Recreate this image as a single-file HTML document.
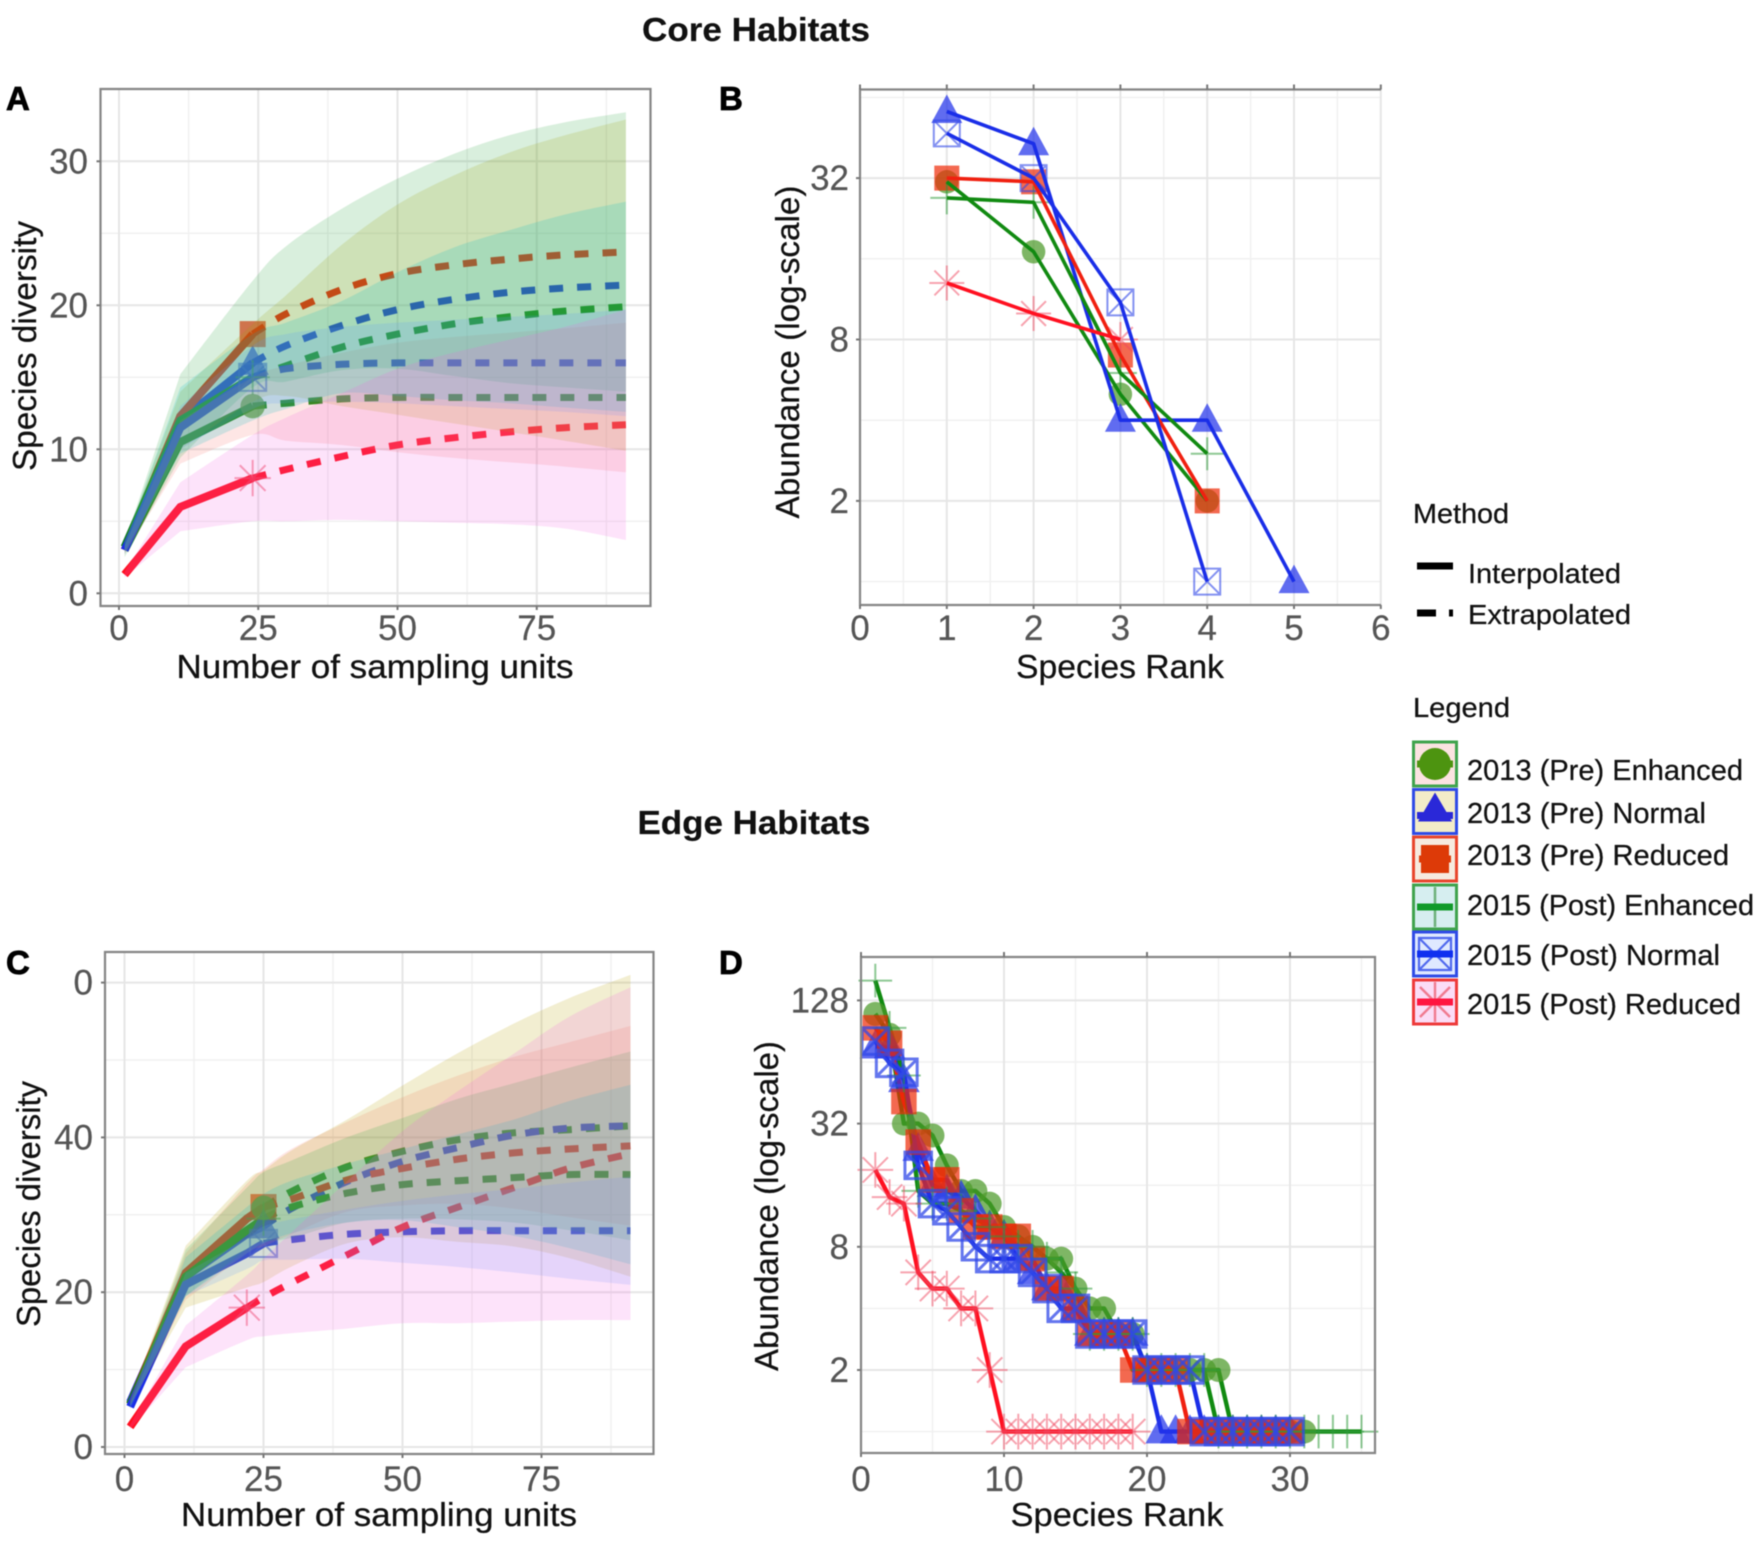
<!DOCTYPE html>
<html lang="en">
<head>
<meta charset="utf-8">
<title>Core and Edge Habitats</title>
<style>
html,body{margin:0;padding:0;background:#fff;}
svg{display:block;font-family:"Liberation Sans",sans-serif;filter:blur(0.65px);}
text{paint-order:stroke;stroke:currentColor;}
</style>
</head>
<body>
<svg id="fig" width="1760" height="1543" viewBox="0 0 1760 1543" xmlns="http://www.w3.org/2000/svg">
<rect x="0" y="0" width="1760" height="1543" fill="#ffffff"/>
<text x="756" y="41" font-size="33" font-weight="bold" text-anchor="middle" fill="#111" color="#111" stroke-width="0.2" textLength="228" lengthAdjust="spacingAndGlyphs">Core Habitats</text>
<text x="754" y="834" font-size="33" font-weight="bold" text-anchor="middle" fill="#111" color="#111" stroke-width="0.2" textLength="233" lengthAdjust="spacingAndGlyphs">Edge Habitats</text>
<text x="6" y="110" font-size="33" font-weight="bold" fill="#000" color="#000" stroke-width="0.8">A</text>
<text x="719" y="110" font-size="33" font-weight="bold" fill="#000" color="#000" stroke-width="0.8">B</text>
<text x="6" y="974" font-size="33" font-weight="bold" fill="#000" color="#000" stroke-width="0.8">C</text>
<text x="719" y="974" font-size="33" font-weight="bold" fill="#000" color="#000" stroke-width="0.8">D</text>

<g id="panelA"></g>
<g id="panelB"></g>
<g id="panelC"></g>
<g id="panelD"></g>

<g stroke-width="0.25" fill="#111" color="#111">
<text x="375" y="678" font-size="33.5" text-anchor="middle" textLength="397" lengthAdjust="spacingAndGlyphs">Number of sampling units</text>
<text x="379" y="1526" font-size="33.5" text-anchor="middle" textLength="396" lengthAdjust="spacingAndGlyphs">Number of sampling units</text>
<text x="1120" y="678" font-size="33.5" text-anchor="middle" textLength="208" lengthAdjust="spacingAndGlyphs">Species Rank</text>
<text x="1117" y="1526" font-size="33.5" text-anchor="middle" textLength="213" lengthAdjust="spacingAndGlyphs">Species Rank</text>
<text transform="translate(36 346) rotate(-90)" font-size="33.5" text-anchor="middle" textLength="250" lengthAdjust="spacingAndGlyphs">Species diversity</text>
<text transform="translate(40 1204) rotate(-90)" font-size="33.5" text-anchor="middle" textLength="246" lengthAdjust="spacingAndGlyphs">Species diversity</text>
<text transform="translate(799 352) rotate(-90)" font-size="33.5" text-anchor="middle" textLength="333" lengthAdjust="spacingAndGlyphs">Abundance (log-scale)</text>
<text transform="translate(778 1206) rotate(-90)" font-size="33.5" text-anchor="middle" textLength="330" lengthAdjust="spacingAndGlyphs">Abundance (log-scale)</text>
</g>

<g id="legendMethod" stroke-width="0.25" fill="#111" color="#111">
<text x="1413" y="523" font-size="28" textLength="96" lengthAdjust="spacingAndGlyphs">Method</text>
<line x1="1417" x2="1453" y1="566" y2="566" stroke="#000" stroke-width="7"/>
<text x="1468" y="583" font-size="28" textLength="153" lengthAdjust="spacingAndGlyphs">Interpolated</text>
<line x1="1417" x2="1436" y1="613" y2="613" stroke="#000" stroke-width="7"/>
<line x1="1449" x2="1453" y1="613" y2="613" stroke="#000" stroke-width="7"/>
<text x="1468" y="624" font-size="28" textLength="163" lengthAdjust="spacingAndGlyphs">Extrapolated</text>
</g>
<g id="legendMain" stroke-width="0.25" fill="#111" color="#111">
<text x="1413" y="717" font-size="28" textLength="97" lengthAdjust="spacingAndGlyphs">Legend</text>
<text x="1467" y="780" font-size="29" textLength="276" lengthAdjust="spacingAndGlyphs">2013 (Pre) Enhanced</text>
<text x="1467" y="823" font-size="29" textLength="239" lengthAdjust="spacingAndGlyphs">2013 (Pre) Normal</text>
<text x="1467" y="865" font-size="29" textLength="262" lengthAdjust="spacingAndGlyphs">2013 (Pre) Reduced</text>
<text x="1467" y="915" font-size="29" textLength="287" lengthAdjust="spacingAndGlyphs">2015 (Post) Enhanced</text>
<text x="1467" y="965" font-size="29" textLength="253" lengthAdjust="spacingAndGlyphs">2015 (Post) Normal</text>
<text x="1467" y="1014" font-size="29" textLength="274" lengthAdjust="spacingAndGlyphs">2015 (Post) Reduced</text>
</g>
</svg>
<script>
// ---------- Panel A data (Core, diversity vs sampling units) ----------
const aSampling = [1, 11, 24, 30, 40, 50, 60, 70, 80, 91];
const aEnh13 = [3, 10.5, 13, 13.2, 13.5, 13.6, 13.6, 13.6, 13.6, 13.6];
const aNor13 = [3.2, 12, 16, 17.2, 18.6, 19.7, 20.4, 20.9, 21.2, 21.4];
const aRed13 = [3, 12.3, 18, 19.4, 21.1, 22.2, 22.8, 23.2, 23.5, 23.7];
const aEnh15 = [3.2, 12, 15, 15.8, 17.1, 18, 18.7, 19.2, 19.6, 19.9];
const aNor15 = [3, 11.5, 15, 15.6, 15.9, 16, 16, 16, 16, 16];
const aRed15 = [1.3, 6, 8, 8.6, 9.5, 10.3, 10.8, 11.2, 11.5, 11.7];
const aEnh13Ci = [0.3, 1.5, 2, 2.6, 3.2, 3.8, 4.2, 4.5, 4.8, 5.2];
const aNor13Ci = [0.4, 2, 2.7, 3.5, 5.6, 7.3, 8.6, 9.7, 10.6, 11.5];
const aRed13Ci = [0.5, 2.9, 3.7, 4.7, 5.6, 6.6, 7.7, 8.6, 9.2, 9.7];
const aEnh15Ci = [0.3, 2.3, 3, 3, 3.2, 4.3, 5.3, 6, 6.7, 7.3];
const aNor15Ci = [0.3, 1.5, 2.2, 2.4, 2.6, 2.8, 3, 3.2, 3.4, 3.7];
const aRed15Ci = [0.2, 1.7, 3, 3.6, 4.4, 5.3, 5.9, 6.4, 7, 8];
const aObservedIndex = [2, 2, 2, 2, 2, 2];
const aXTicks = [0, 25, 50, 75];
const aYTicks = [0, 10, 20, 30];
const aYTickLabels = ['0', '10', '20', '30'];

// ---------- Panel C data (Edge, diversity vs sampling units) ----------
const cSampling = [1, 11, 22, 25, 30, 40, 50, 60, 70, 80, 91];
const cEnh13 = [5.6, 22, 29.5, 30.9, 33, 36.2, 38.2, 39.7, 40.6, 41, 41.5];
const cNor13 = [5.8, 22, 27.5, 28.5, 30.8, 34.3, 36.9, 38.7, 40.3, 41.2, 41.5];
const cRed13 = [5.5, 22.5, 29.5, 31, 32, 34.5, 36, 37.2, 38, 38.5, 38.9];
const cEnh15 = [5.5, 22, 28, 29.5, 31, 32.8, 33.9, 34.4, 34.8, 35.2, 35.2];
const cNor15 = [5.2, 21, 25, 26.3, 26.8, 27.5, 27.8, 27.95, 27.95, 27.95, 27.95];
const cRed15 = [2.6, 13, 18, 19.3, 21.2, 24.8, 28.4, 31, 33.5, 36, 37.9];
const cEnh13Ci = [0.4, 3, 4.5, 5, 5.5, 5.8, 7, 8.3, 9.8, 11.3, 12.9];
const cNor13Ci = [0.4, 4, 6.9, 7.2, 7.5, 8, 9.8, 12.2, 14.4, 16.8, 19.5];
const cRed13Ci = [0.4, 3, 4, 4.5, 5, 5.5, 6.5, 7.8, 9, 10.5, 12.2];
const cEnh15Ci = [0.3, 2.5, 3, 3.2, 3.4, 3.8, 4.6, 6, 7.5, 9.5, 11.6];
const cNor15Ci = [0.3, 1.5, 2, 2.2, 2.6, 3.2, 4, 4.7, 5.4, 6.2, 7];
const cRed15Ci = [0.3, 2.7, 4.2, 5, 6.5, 9.5, 12.4, 15, 17.3, 19.6, 21.5];
const cObservedIndex = [3, 3, 3, 3, 3, 2];
const cXTicks = [0, 25, 50, 75];
const cYTicks = [0, 20, 40, 60];
const cYTickLabels = ['0', '20', '40', '0'];

// ---------- Panel B data (Core, abundance by species rank) ----------
const bEnh13 = [31, 17, 5, 2];
const bNor13 = [56.7, 43, 4, 4, 1];
const bRed13 = [32, 31, 7, 2];
const bEnh15 = [27, 26, 6, 3];
const bNor15 = [47, 32, 11, 1];
const bRed15 = [13, 10, 8];
const bXTicks = [0, 1, 2, 3, 4, 5, 6];
const bYTicks = [2, 8, 32];

// ---------- Panel D data (Edge, abundance by species rank) ----------
const dEnh13 = [110,87,32,32,28,20,15,15,13,10,9,8,7,7,5,4,4,3,3,2,2,2,2,2,2,1,1,1,1,1,1];
const dNor13 = [76,76,52,24,16,15,14,12,10,9,7,6,5,5,4,3,3,3,3,2,1,1,1,1,1,1,1,1,1,1];
const dRed13 = [94,79,41,26,17,17,12,10,10,9,9,7,5,5,4,3,3,3,2,2,2,2,1,1,1,1,1,1,1,1];
const dEnh15 = [160,94,55,15,13,13,12,11,10,9,8,8,7,6,5,3,3,3,3,2,2,2,2,2,1,1,1,1,1,1,1,1,1,1,1];
const dNor15 = [81,63,57,20,13,12,10,8,7,7,7,6,5,4,4,3,3,3,3,2,2,2,2,1,1,1,1,1,1,1];
const dRed15 = [19,14,13,6,5,5,4,4,2,1,1,1,1,1,1,1,1,1,1];
const dXTicks = [0, 10, 20, 30];
const dYTicks = [2, 8, 32, 128];

// ---------- Series names ----------
const seriesKeys = ['2013-enhanced', '2013-normal', '2013-reduced', '2015-enhanced', '2015-normal', '2015-reduced'];

// ---------- Styling ----------
const lineColor = ['#118a11', '#1a2ee8', '#f02010', '#118a11', '#1a2ee8', '#ff1020'];
const ribbonColor = ['#F8766D', '#B79F00', '#2aa544', '#00BFC4', '#619CFF', '#F564E3'];
const markerColor = ['#4c9a2a', '#2233ea', '#ee2a06', '#2f9a3a', '#3048e8', '#f04860'];
const markerType = ['circle', 'triangle', 'square', 'plus', 'crossSquare', 'asterisk'];
const aMarkerOrder = [0, 1, 2, 3, 4, 5];
const cMarkerOrder = [2, 1, 3, 4, 0, 5];
let crossStrokeWidth = 2;
let crossStrokeOpacity = 0.6;

// ---------- Axis functions ----------
const aXS = v => 119 + 5.57 * v;
const aYS = v => 593.3 - 14.4 * v;
const cXS = v => 124.5 + 5.56 * v;
const cYS = v => 1447 - 7.74 * v;
const bXS = v => 860 + 86.8 * v;
const bYS = v => 581.6 - 80.7 * Math.log2(v);
const dXS = v => 861 + 14.3 * v;
const dYS = v => 1431.6 - 61.6 * Math.log2(v);

const NS = 'http://www.w3.org/2000/svg';
function mk(parent, tag, attrs) {
  const el = document.createElementNS(NS, tag);
  for (const k in attrs) el.setAttribute(k, attrs[k]);
  parent.appendChild(el);
  return el;
}

function drawMarker(parent, type, x, y, s, color, name) {
  const g = mk(parent, 'g', {});
  
  
  if (type === 'circle') {
    mk(g, 'circle', { cx: x, cy: y, r: s * 0.47, fill: color, 'fill-opacity': 0.72 });
  } else if (type === 'triangle') {
    const w = s * 0.62, hT = s * 0.68, hB = s * 0.46;
    mk(g, 'polygon', { points: `${x - w},${y + hB} ${x + w},${y + hB} ${x},${y - hT}`, fill: color, 'fill-opacity': 0.72 });
  } else if (type === 'square') {
    const h = s * 0.5;
    mk(g, 'rect', { x: x - h, y: y - h, width: 2 * h, height: 2 * h, fill: color, 'fill-opacity': 0.7 });
  } else if (type === 'plus') {
    const a = s * 0.66;
    mk(g, 'path', { d: `M${x - a} ${y}H${x + a}M${x} ${y - a}V${y + a}`, stroke: color, 'stroke-width': 2, 'stroke-opacity': 0.55, fill: 'none' });
  } else if (type === 'crossSquare') {
    const h = s * 0.52;
    mk(g, 'path', { d: `M${x - h} ${y - h}H${x + h}V${y + h}H${x - h}ZM${x - h} ${y - h}L${x + h} ${y + h}M${x + h} ${y - h}L${x - h} ${y + h}`, stroke: color, 'stroke-width': crossStrokeWidth, 'stroke-opacity': crossStrokeOpacity, fill: 'none' });
  } else {
    const a = s * 0.7, d = a * 0.707;
    mk(g, 'path', { d: `M${x - a} ${y}H${x + a}M${x} ${y - a}V${y + a}M${x - d} ${y - d}L${x + d} ${y + d}M${x + d} ${y - d}L${x - d} ${y + d}`, stroke: color, 'stroke-width': 2, 'stroke-opacity': 0.5, fill: 'none' });
  }
  return g;
}

function polyD(xs, ys) {
  return xs.map((x, i) => (i ? 'L' : 'M') + x.toFixed(1) + ' ' + ys[i].toFixed(1)).join('');
}

// smooth curve segments through the given points (no initial move)
function curveSegs(x, y) {
  let d = '';
  const n = x.length;
  for (let i = 0; i < n - 1; i++) {
    const a = i > 0 ? i - 1 : i, b = i + 2 < n ? i + 2 : i + 1;
    const c1x = x[i] + (x[i + 1] - x[a]) / 6, c1y = y[i] + (y[i + 1] - y[a]) / 6;
    const c2x = x[i + 1] - (x[b] - x[i]) / 6, c2y = y[i + 1] - (y[b] - y[i]) / 6;
    d += `C${c1x.toFixed(1)} ${c1y.toFixed(1)} ${c2x.toFixed(1)} ${c2y.toFixed(1)} ${x[i + 1].toFixed(1)} ${y[i + 1].toFixed(1)}`;
  }
  return d;
}

function frame(parent, box, xs, ys, xMinor, yMinor) {
  const bg = mk(parent, 'rect', { x: box.l, y: box.t, width: box.r - box.l, height: box.b - box.t, fill: '#fff' });
  
  
  xMinor.forEach(px => {
    const l = mk(parent, 'line', { x1: px, x2: px, y1: box.t, y2: box.b, stroke: '#f0f0f0', 'stroke-width': 1.4 });
    
    
  });
  yMinor.forEach(py => {
    const l = mk(parent, 'line', { x1: box.l, x2: box.r, y1: py, y2: py, stroke: '#f0f0f0', 'stroke-width': 1.4 });
    
    
  });
  xs.forEach(px => {
    const l = mk(parent, 'line', { x1: px, x2: px, y1: box.t, y2: box.b, stroke: '#e6e6e6', 'stroke-width': 2 });
    
    
  });
  ys.forEach(py => {
    const l = mk(parent, 'line', { x1: box.l, x2: box.r, y1: py, y2: py, stroke: '#e6e6e6', 'stroke-width': 2 });
    
    
  });
}

function border(parent, box, hasRight) {
  const d = hasRight
    ? `M${box.l} ${box.t}H${box.r}V${box.b}H${box.l}Z`
    : `M${box.r} ${box.t}H${box.l}V${box.b}H${box.r}`;
  const p = mk(parent, 'path', { d: d, fill: 'none', stroke: '#858585', 'stroke-width': 2.2 });
  
  
}

function axisText(parent, str, x, y, anchor, name) {
  const t = mk(parent, 'text', { x: x, y: y, 'font-size': 35, 'text-anchor': anchor, fill: '#555', color: '#555', 'stroke-width': 0.2 });
  t.textContent = str;
  
  
}

function tick(parent, x1, y1, x2, y2) {
  const l = mk(parent, 'line', { x1, y1, x2, y2, stroke: '#777', 'stroke-width': 2 });
  
  
}

function drawRarefaction(parent, box, xS, yS, grid, means, cis, obs, order, xTicks, yTicks, yLabels, xMinorV, yMinorV, labelBase, labelRight) {
  frame(parent, box, xTicks.map(xS), yTicks.map(yS), xMinorV.map(xS), yMinorV.map(yS));
  const px = grid.map(xS);
  means.forEach((m, i) => {
    const py = m.map(yS), k = obs[i];
    const solid = mk(parent, 'path', { d: polyD(px.slice(0, k + 1), py.slice(0, k + 1)), fill: 'none', stroke: lineColor[i], 'stroke-width': 8, 'stroke-linejoin': 'miter' });
    
    
    const dash = mk(parent, 'path', { d: 'M' + px[k].toFixed(1) + ' ' + py[k].toFixed(1) + curveSegs(px.slice(k), py.slice(k)), fill: 'none', stroke: lineColor[i], 'stroke-width': 7, 'stroke-dasharray': '14 14' });
    
    
  });
  order.forEach(i => {
    const k = obs[i];
    drawMarker(parent, markerType[i], px[k], yS(means[i][k]), 26, markerColor[i], 'observed-point-' + seriesKeys[i]);
  });
  // ribbons overlay the lines
  means.forEach((m, i) => {
    const up = m.map((v, j) => yS(v + cis[i][j]));
    const lo = m.map((v, j) => yS(v - cis[i][j]));
    const n = px.length;
    const rx = px.slice(1).reverse(), rl = lo.slice(1).reverse();
    const d = `M${px[0].toFixed(1)} ${up[0].toFixed(1)}L${px[1].toFixed(1)} ${up[1].toFixed(1)}` +
      curveSegs(px.slice(1), up.slice(1)) +
      `L${px[n - 1].toFixed(1)} ${lo[n - 1].toFixed(1)}` +
      curveSegs(rx, rl) +
      `L${px[0].toFixed(1)} ${lo[0].toFixed(1)}Z`;
    const r = mk(parent, 'path', { d: d, fill: ribbonColor[i], 'fill-opacity': 0.18 });
    
    
  });
  border(parent, box, true);
  xTicks.forEach(v => {
    tick(parent, xS(v), box.b, xS(v), box.b + 4);
    axisText(parent, String(v), xS(v), labelBase, 'middle', 'x-tick-label');
  });
  yTicks.forEach((v, i) => {
    tick(parent, box.l - 4, yS(v), box.l, yS(v));
    axisText(parent, yLabels[i], labelRight, yS(v) + 12, 'end', 'y-tick-label');
  });
}

function drawRank(parent, box, xS, yS, series, xTicks, yTicks, xMinorV, yMinorV, labelBase, labelRight, hasRight, size, lw, linesFirst) {
  frame(parent, box, xTicks.map(xS), yTicks.map(yS), xMinorV.map(xS), yMinorV.map(yS));
  const drawLines = () => series.forEach((s, i) => {
    const px = s.map((_, j) => xS(j + 1)), py = s.map(yS);
    const l = mk(parent, 'path', { d: polyD(px, py), fill: 'none', stroke: lineColor[i], 'stroke-width': lw, 'stroke-linejoin': 'round' });
    
    
  });
  const drawPoints = () => series.forEach((s, i) => {
    s.forEach((v, j) => {
      drawMarker(parent, markerType[i], xS(j + 1), yS(v), size, markerColor[i], 'rank-point-' + seriesKeys[i]);
    });
  });
  if (linesFirst) { drawLines(); drawPoints(); } else { drawPoints(); drawLines(); }
  border(parent, box, hasRight);
  xTicks.forEach(v => {
    tick(parent, xS(v), box.b, xS(v), box.b + 4);
    tick(parent, xS(v), box.t - 5, xS(v), box.t);
    axisText(parent, String(v), xS(v), labelBase, 'middle', 'x-tick-label');
  });
  yTicks.forEach(v => {
    tick(parent, box.l - 4, yS(v), box.l, yS(v));
    axisText(parent, String(v), labelRight, yS(v) + 12, 'end', 'y-tick-label');
  });
}

drawRarefaction(document.getElementById('panelA'), { l: 100.5, r: 650.5, t: 89, b: 606 }, aXS, aYS, aSampling,
  [aEnh13, aNor13, aRed13, aEnh15, aNor15, aRed15],
  [aEnh13Ci, aNor13Ci, aRed13Ci, aEnh15Ci, aNor15Ci, aRed15Ci],
  aObservedIndex, aMarkerOrder, aXTicks, aYTicks, aYTickLabels, [12.5, 37.5, 62.5, 87.5], [5, 15, 25], 640, 88);

drawRarefaction(document.getElementById('panelC'), { l: 105, r: 653.5, t: 952, b: 1454 }, cXS, cYS, cSampling,
  [cEnh13, cNor13, cRed13, cEnh15, cNor15, cRed15],
  [cEnh13Ci, cNor13Ci, cRed13Ci, cEnh15Ci, cNor15Ci, cRed15Ci],
  cObservedIndex, cMarkerOrder, cXTicks, cYTicks, cYTickLabels, [12.5, 37.5, 62.5, 87.5], [10, 30, 50], 1491, 93);

drawRank(document.getElementById('panelB'), { l: 860, r: 1381, t: 89.5, b: 605 }, bXS, bYS,
  [bEnh13, bNor13, bRed13, bEnh15, bNor15, bRed15],
  bXTicks, bYTicks, [0.5, 1.5, 2.5, 3.5, 4.5, 5.5], [1, 4, 16, 64], 640, 849, false, 25, 3.6, false);

crossStrokeWidth = 3;
crossStrokeOpacity = 0.75;
drawRank(document.getElementById('panelD'), { l: 861, r: 1375, t: 957, b: 1453 }, dXS, dYS,
  [dEnh13, dNor13, dRed13, dEnh15, dNor15, dRed15],
  dXTicks, dYTicks, [5, 15, 25, 35], [1, 4, 16, 64], 1491, 849, true, 25.5, 4.4, true);

// Legend keys
const keyTop = [742, 789.5, 837, 885, 932, 980];
const keyFill = ['#fbe3e1', '#f3ecc8', '#f6eadf', '#d6eef0', '#dfe9ff', '#fbdcf6'];
const keyBorder = ['#3fa34d', '#2f4be6', '#e8452c', '#3fa34d', '#2f4be6', '#ee3a3a'];
const keySolidMarker = ['#4d9410', '#2a28d8', '#dd3a08', '#2f9a3a', '#3048e8', '#f04860'];
const legendG = document.getElementById('legendMain');
keyTop.forEach((y, i) => {
  const g = mk(legendG, 'g', {});
  
  
  mk(g, 'rect', { x: 1413.5, y: y, width: 43, height: 44, fill: keyFill[i], stroke: keyBorder[i], 'stroke-width': 3 });
  const cx = 1435, cy = y + 22;
  if (i === 0) {
    mk(g, 'circle', { cx: cx, cy: cy, r: 16, fill: keySolidMarker[0] });
    mk(g, 'line', { x1: 1417, x2: 1453, y1: cy, y2: cy, stroke: keySolidMarker[0], 'stroke-width': 7 });
  } else if (i === 1) {
    mk(g, 'polygon', { points: `${cx - 17},${cy + 10} ${cx + 17},${cy + 10} ${cx},${cy - 19}`, fill: keySolidMarker[1] });
    mk(g, 'line', { x1: 1417, x2: 1453, y1: cy + 4, y2: cy + 4, stroke: keySolidMarker[1], 'stroke-width': 7 });
  } else if (i === 2) {
    mk(g, 'rect', { x: cx - 14, y: cy - 14, width: 28, height: 28, fill: keySolidMarker[2] });
    mk(g, 'line', { x1: 1419, x2: 1451, y1: cy, y2: cy, stroke: keySolidMarker[2], 'stroke-width': 7 });
  } else if (i === 3) {
    mk(g, 'line', { x1: cx, x2: cx, y1: y + 2, y2: y + 42, stroke: '#6db07a', 'stroke-width': 2.5 });
    mk(g, 'line', { x1: 1417, x2: 1453, y1: cy, y2: cy, stroke: '#119a2a', 'stroke-width': 7 });
  } else if (i === 4) {
    mk(g, 'path', { d: `M${cx - 16} ${cy - 16}H${cx + 16}V${cy + 16}H${cx - 16}ZM${cx - 16} ${cy - 16}L${cx + 16} ${cy + 16}M${cx + 16} ${cy - 16}L${cx - 16} ${cy + 16}`, fill: 'none', stroke: '#5068ee', 'stroke-width': 2.2 });
    mk(g, 'line', { x1: 1417, x2: 1453, y1: cy, y2: cy, stroke: '#1030f0', 'stroke-width': 7 });
  } else {
    mk(g, 'path', { d: `M${cx} ${y + 2}V${y + 42}M${cx - 15} ${cy - 15}L${cx + 15} ${cy + 15}M${cx + 15} ${cy - 15}L${cx - 15} ${cy + 15}`, fill: 'none', stroke: '#f07a90', 'stroke-width': 2.4 });
    mk(g, 'line', { x1: 1417, x2: 1453, y1: cy, y2: cy, stroke: '#ff1540', 'stroke-width': 7 });
  }
});
</script>
</body>
</html>
